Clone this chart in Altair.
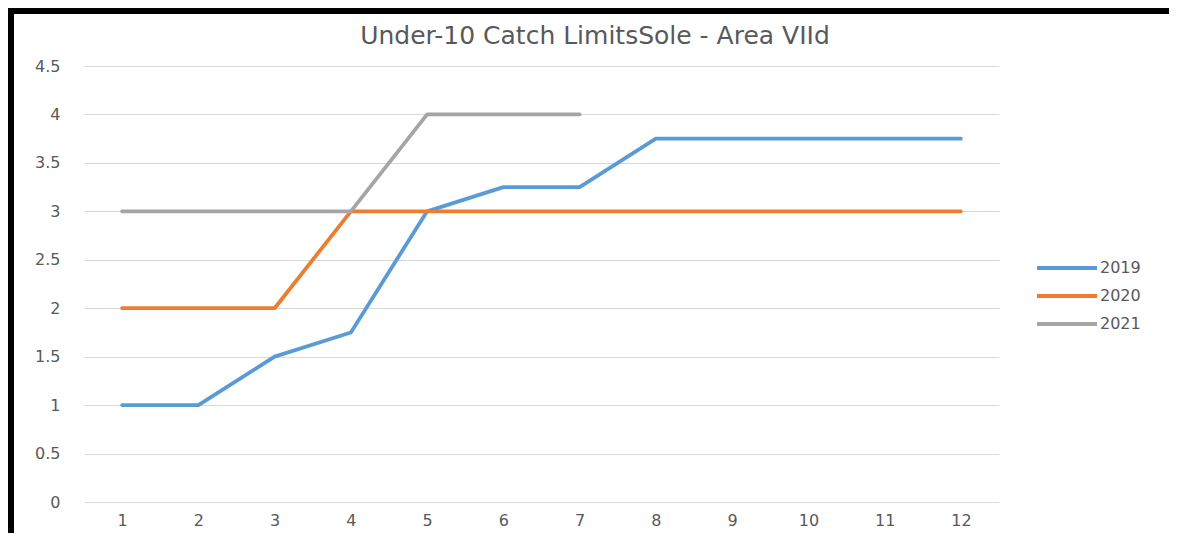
import altair as alt
import pandas as pd

months = list(range(1, 13))
s2019 = [1, 1, 1.5, 1.75, 3, 3.25, 3.25, 3.75, 3.75, 3.75, 3.75, 3.75]
s2020 = [2, 2, 2, 3, 3, 3, 3, 3, 3, 3, 3, 3]
s2021 = [3, 3, 3, 3, 4, 4, 4]
years = ["2019", "2020", "2021"]
colors = ["#5B9BD5", "#ED7D31", "#A5A5A5"]
y_ticks = [0, 0.5, 1, 1.5, 2, 2.5, 3, 3.5, 4, 4.5]
title_text = "Under-10 Catch LimitsSole - Area VIId"

rows = []
for yr, series in zip(years, [s2019, s2020, s2021]):
    for m, v in zip(months, series):
        rows.append({"month": m, "value": v, "year": yr})
df = pd.DataFrame(rows)

FONT = "DejaVu Sans"
GREY = "#595959"

lines = alt.Chart(df).mark_line(strokeWidth=3.8, strokeCap="round", strokeJoin="round").encode(
    x=alt.X("month:O", sort=months, scale=alt.Scale(padding=0.5),
            axis=alt.Axis(title=None, labelAngle=0, domain=False, ticks=False, grid=False,
                          labelPadding=10, labelFontSize=16, labelColor=GREY, labelFont=FONT)),
    y=alt.Y("value:Q", scale=alt.Scale(domain=[0, 4.5], nice=False),
            axis=alt.Axis(title=None, values=y_ticks, format="~g", domain=False, ticks=False,
                          labelPadding=24, labelFontSize=16, labelColor=GREY, labelFont=FONT,
                          gridColor="#D9D9D9", gridWidth=1)),
    color=alt.Color("year:N", scale=alt.Scale(domain=years, range=colors),
                    legend=alt.Legend(title=None, orient="none", legendX=971, legendY=190,
                                      symbolType="M-3,0H3", symbolSize=400, symbolStrokeWidth=3.8,
                                      labelFontSize=16, labelColor=GREY, labelFont=FONT,
                                      labelOffset=21, rowPadding=8, padding=0)),
)

title = alt.Chart(pd.DataFrame({"t": [title_text]})).mark_text(
    font=FONT, fontSize=25, color=GREY, align="center", baseline="alphabetic"
).encode(text="t:N", x=alt.value(511), y=alt.value(-22))

frame_top = alt.Chart(df).mark_rule(color="black", strokeWidth=6).encode(
    x=alt.value(-76), x2=alt.value(1090), y=alt.value(-55))
frame_left = alt.Chart(df).mark_rule(color="black", strokeWidth=6).encode(
    x=alt.value(-73), y=alt.value(-58), y2=alt.value(467))

chart = alt.layer(lines, title, frame_top, frame_left).properties(
    width=915, height=436,
    autosize=alt.AutoSizeParams(type="none"),
    padding={"left": 76, "top": 58, "right": 170, "bottom": 31},
).configure_view(stroke=None)

chart.save("out.html", embed_options={"renderer": "svg", "actions": False})
